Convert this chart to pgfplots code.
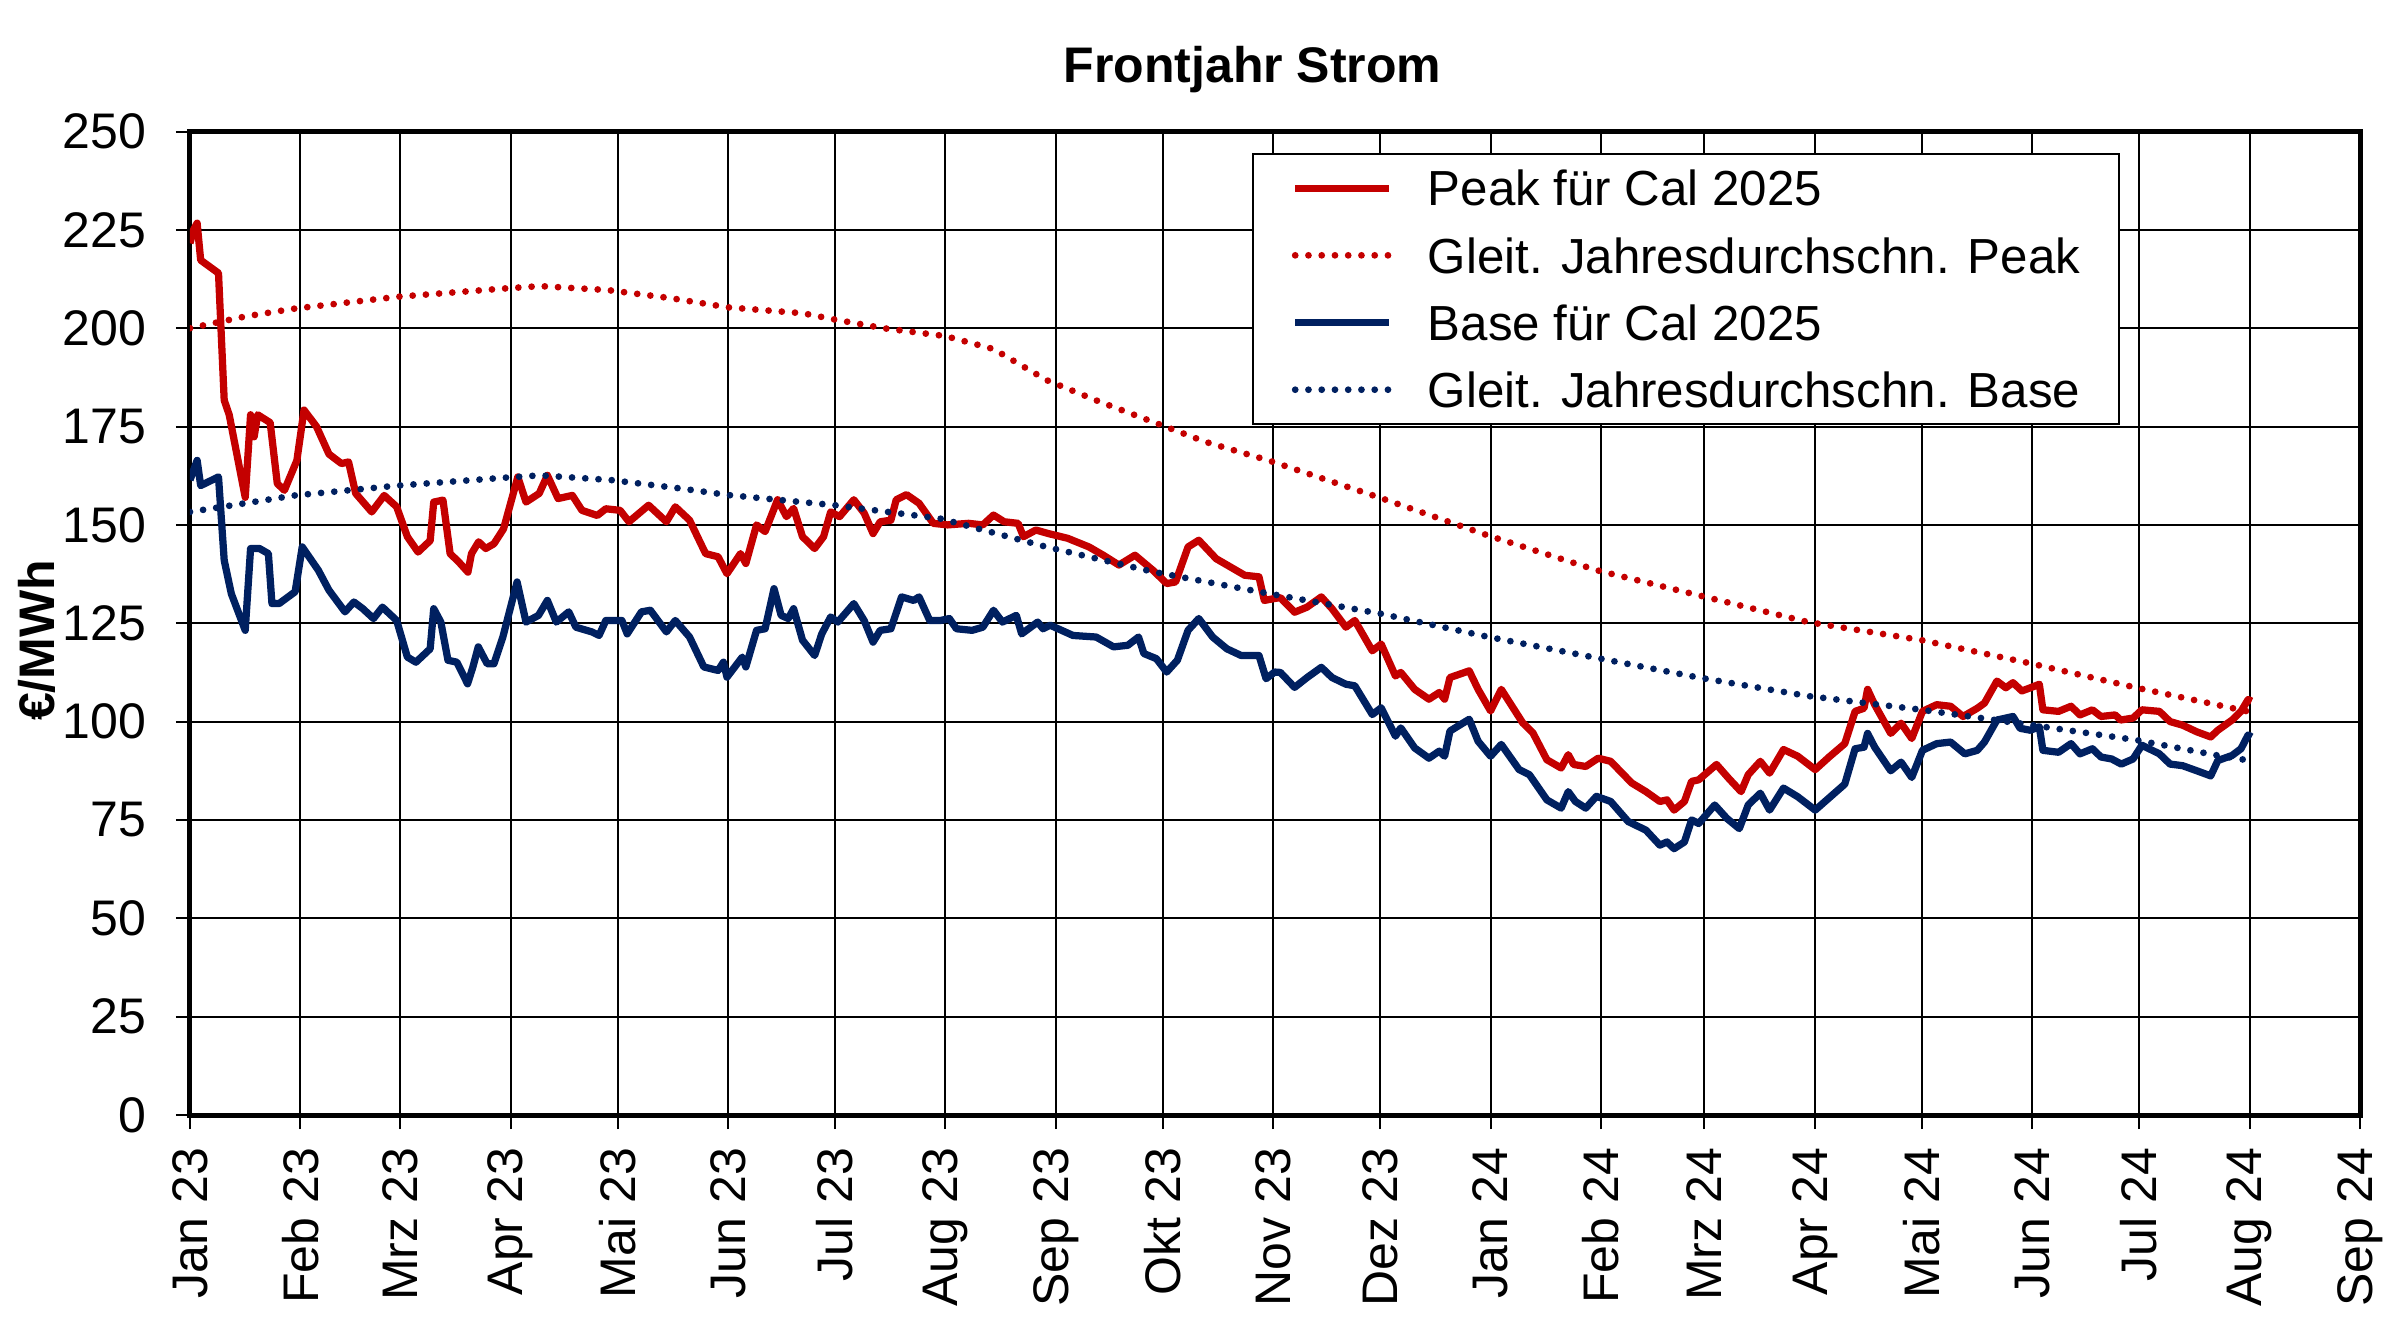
\documentclass[border=0pt]{standalone}
\usepackage{fontspec}
\setmainfont{Liberation Sans}
\usepackage{pgfplots}
\pgfplotsset{compat=1.18}
\definecolor{pkred}{RGB}{196,0,0}
\definecolor{bsblue}{RGB}{0,32,96}
\begin{document}
\begin{tikzpicture}
\useasboundingbox (0,0) rectangle (480pt,265.4pt);
\begin{axis}[
  at={(38pt,42.4pt)}, anchor=south west,
  scale only axis, width=434pt, height=196.7pt,
  xmin=0, xmax=609, ymin=0, ymax=250,
  xtick={0,31,59,90,120,151,181,212,243,273,304,334,365,396,425,456,486,517,547,578,609},
  xticklabels={Jan 23,Feb 23,Mrz 23,Apr 23,Mai 23,Jun 23,Jul 23,Aug 23,Sep 23,Okt 23,Nov 23,Dez 23,Jan 24,Feb 24,Mrz 24,Apr 24,Mai 24,Jun 24,Jul 24,Aug 24,Sep 24},
  ytick={0,25,...,250},
  yticklabels={0,25,50,75,100,125,150,175,200,225,250},
  xtick pos=bottom, ytick pos=left,
  tick align=outside, major tick length=2.8pt,
  every tick/.style={black, line width=0.4pt},
  grid=major, major grid style={black, line width=0.4pt},
  axis line style={black, line width=1pt},
  every tick label/.append style={font=\fontsize{10}{12}\selectfont},
  yticklabel style={anchor=east, inner sep=0pt, xshift=-5.8pt},
  xticklabel style={yshift=-3.6pt, rotate=90, anchor=east, inner sep=0pt},
  ylabel={\bfseries €/MWh},
  every axis y label/.style={at={(axis description cs:0,0.5)}, xshift=-30.6pt, yshift=-3.4pt, rotate=90, anchor=center, font=\fontsize{10}{12}\selectfont},
  title={\bfseries Frontjahr Strom},
  every axis title/.style={at={(axis description cs:0.5,1)}, anchor=base, yshift=9.9pt, xshift=-4.5pt, font=\fontsize{10}{12}\selectfont},
  legend style={at={(axis description cs:0.8894,0.9786)}, anchor=north east, draw=black, line width=0.5pt, fill=white,
    inner xsep=7.7pt, inner ysep=3.3pt, row sep=6.3pt, column sep=7.1pt,
    font=\fontsize{9.85}{12}\selectfont, nodes={inner sep=0pt, text depth=0pt}},
  legend cell align=left,
  legend image code/.code={\draw[#1] (0pt,0pt) -- (18.7pt,0pt);},
  solid line/.style={line width=1.45pt, line join=round},
  dot line/.style={line width=1.35pt, line cap=round, dash pattern=on 0pt off 2.65pt},
]
\addplot[pkred, solid line] coordinates {
(0,221.6) (1,225) (2,226.7) (3,217.3) (8,214) (9.6,181.7) (11,178) (15.5,157) (17,178) (18,172.4) (19,178) (22.5,176) (24.5,160.5) (26.5,158.8) (30,166.4) (32,179.2) (35.5,175) (39,168) (42.5,165.6) (44.5,166) (46.5,158) (51,153.3) (54.5,157.5) (58,154.6) (61,147) (64,143.1) (67.4,146) (68.4,155.8) (71,156.3) (73,142.7) (75.4,140.6) (78,138) (79,142.7) (81,145.7) (83,144) (85.3,145.2) (88,149) (92,162.2) (94.3,155.8) (98,158) (100.3,162.6) (103.3,156.7) (107.3,157.5) (110,153.7) (114.3,152.4) (116.7,154.1) (120.7,153.7) (123.2,150.8) (128.7,155) (133.7,150.8) (136.2,154.6) (140.2,151.2) (144.7,142.7) (148.2,141.9) (150.7,137.6)
(154.5,142.7) (156,140.2) (159,150) (161.4,148.3) (164.9,156.4) (167.4,152.1) (169.4,154.2) (171.9,147) (175.3,144) (177.8,147) (179.8,153.3) (182.3,152.1) (186.3,156.4) (189.2,153) (191.7,147.8) (193.7,150.8) (196.7,151.2) (198.2,156.4) (201.1,157.7) (204.6,155.5) (208.6,150.4) (212.6,150) (218.5,150.4) (222.5,150) (225.5,152.5) (228.5,150.8) (232.4,150.4) (233.9,147) (237.4,148.7) (240.9,147.8) (246.3,146.6) (252.3,144.4) (256.3,142.3) (260.7,139.8) (265.2,142.3) (270.2,138.5) (274.1,135.1) (276.6,135.5) (280.1,144.4) (283.1,146.1) (288,141.4) (292,139.3) (296,137.2) (300,136.8) (301.5,130.8) (304.4,131.3)
(306,131.5) (310,127.8) (313.5,129.1) (317.5,131.7) (320.5,128.7) (324.4,124) (326.9,125.7) (331.8,118) (334.3,119.7) (338.3,111.6) (339.8,112.5) (343.7,108.2) (347.7,105.7) (350.6,107.4) (352.1,105.7) (353.6,111.2) (359,112.9) (361.5,108.2) (365,102.7) (368,108.2) (374,99.7) (376.9,97.1) (380.8,90.3) (384.8,88.2) (386.8,91.6) (388.3,89.1) (391.7,88.6) (395.2,90.7) (398.7,89.9) (404.6,84.4) (408.6,82.2) (412.5,79.7) (414.5,80.1) (416.5,77.5) (419.4,79.7) (421.4,84.8) (423.4,85.2) (428.4,89.1) (431.8,85.6) (435.3,82.2) (437.3,86.5) (440.7,89.9) (443.3,86.9) (447.2,92.9) (451.2,91.2) (456.1,87.8)
(460,91) (464.4,94.4) (467.3,102.6) (469.8,103.4) (470.8,108.2) (472.8,104.3) (477.3,97) (480.2,99.6) (483.2,95.7) (486.2,102.6) (490.2,104.3) (494.1,103.9) (497.6,101.3) (501.6,103.4) (503.6,104.7) (507.1,110.3) (509.6,108.6) (511.6,109.9) (514.1,107.8) (516.5,108.6) (519,109.5) (520,103) (524.4,102.6) (527.9,103.9) (530.4,101.7) (533.9,103) (536.3,101.3) (540.3,101.7) (541.8,100.4) (545.3,100.9) (547.8,103) (552.7,102.6) (555.7,100) (559.2,99.1) (563.2,97.4) (567.1,96.1) (569.1,97.8) (573.1,100.4) (575.6,102.6) (577.6,105.6) (578.6,105.2)
};
\addlegendentry{Peak für Cal 2025}
\addplot[pkred, dot line] coordinates {
(0,200) (15.6,203) (29.5,205) (58.4,208) (88.3,210.1) (98.3,210.7) (117.2,209.7) (135.2,207.6) (151,205.3) (172,203.8) (181,202.2) (194.6,200) (212,198) (225.5,194.7) (240.4,186.8) (255.3,181.3) (270.2,176.2) (285,171.1) (303,166.3) (334.3,156.8) (364,147.4) (394.7,138.5) (423.4,132.1) (454.1,125.3) (486,120.7) (517,114.7) (546.3,108.6) (578,102.5)
};
\addlegendentry{Gleit. Jahresdurchschn. Peak}
\addplot[bsblue, solid line] coordinates {
(0,161.4) (2,166.4) (3,160) (8,162.2) (9.6,141) (11.6,132.5) (15.5,123.2) (17,144) (19.5,144) (22,142.7) (23,130) (25,130) (29.5,133) (31.5,144.4) (36,138.5) (39,133.4) (43.5,127.9) (46,130.4) (48.5,128.7) (51.5,126.2) (54,129.1) (58,125.7) (61,116.4) (63.4,115.1) (67.4,118.5) (68.4,128.7) (70.4,125.3) (72.4,115.6) (74.9,115.1) (77.9,109.6) (79.4,113.9) (80.9,119) (83.4,114.7) (85.3,114.7) (87.8,121.5) (91.8,135.5) (94.3,125.3) (97.8,127) (100.3,130.8) (102.8,125.3) (106.3,127.9) (108.3,124) (112.8,122.8) (114.8,121.9) (116.7,125.7) (121.2,125.7) (122.7,122.3) (126.7,127.9) (129.2,128.3) (133.7,122.8) (136.2,125.7) (140.2,121.5) (144.2,113.9) (148.2,113) (149.7,115.1) (150.7,111.3)
(155,116.4) (156,113.9) (159,123.2) (161.4,123.6) (163.9,133.8) (165.9,127) (167.9,126.2) (169.4,128.7) (171.9,120.7) (175.3,116.8) (177.3,122.3) (179.8,126.6) (181.8,125.3) (186.3,130) (189.2,125.7) (191.7,120.2) (193.7,123.2) (196.7,123.6) (199.7,131.7) (203.1,130.8) (204.6,131.7) (207.6,125.7) (210.6,125.7) (213.1,126.2) (215.1,123.6) (219.5,123.2) (222.5,124) (225.5,128.3) (228,125.3) (231.9,127) (233.4,122.3) (237.9,125.3) (239.4,123.6) (241.4,124.5) (247.8,121.9) (254.3,121.5) (259.2,119) (263.2,119.4) (266.2,121.5) (267.7,117.3) (271.2,116) (274.1,112.6) (277.1,115.6) (280.1,123.2) (283.1,126.2) (287,121.5) (291,118.5) (295,116.8) (300,116.8) (302,110.9) (304.4,112.6)
(306,112.5) (310,108.7) (313.5,111.2) (317.5,113.8) (320.5,111.2) (324.4,109.5) (326.9,109.1) (331.8,101.8) (334.3,103.5) (338.3,96.3) (339.8,98.4) (343.7,93.3) (347.7,90.7) (350.6,92.5) (352.1,91.2) (353.6,97.6) (359,100.6) (361.5,95) (365,91.2) (368,94.2) (373,87.8) (375.9,86.5) (380.8,80.1) (384.8,78) (386.8,82.2) (388.8,79.7) (391.7,78) (394.7,81) (398.7,79.7) (403.6,74.6) (408.6,72.4) (412.5,68.6) (414.5,69.4) (416.5,67.7) (419.4,69.4) (421.4,75) (423.4,74.1) (427.9,78.8) (431.3,75.4) (434.8,72.8) (437.3,78.8) (440.7,81.8) (443.3,77.5) (447.2,83.1) (451.2,80.9) (456.1,77.5)
(460,80.6) (464.4,84.1) (467.3,93.1) (469.8,93.5) (470.8,97) (472.8,93.5) (477.3,87.5) (480.2,89.7) (483.2,85.8) (486.2,92.7) (490.2,94.4) (494.1,94.8) (498.1,91.8) (501.6,92.7) (503.6,94.8) (507.1,100.4) (509.6,100.9) (511.6,101.3) (513.6,98.3) (516.5,97.8) (519,98.7) (520,92.7) (524.4,92.2) (527.9,94.4) (530.4,91.8) (533.9,93.1) (536.3,91) (539.3,90.5) (542,89.2) (545.3,90.5) (547.8,94) (552.7,91.8) (555.7,89.2) (559.2,88.8) (563.2,87.5) (567.1,86.2) (569.1,90.1) (573.1,91.4) (575.6,93.1) (577.6,96.6) (578.6,96.1)
};
\addlegendentry{Base für Cal 2025}
\addplot[bsblue, dot line] coordinates {
(0,153.3) (29.5,157.5) (58.4,160) (88.3,162) (98.3,162.6) (118.2,161.4) (138.2,159.2) (151,157.6) (181,155) (210.6,151.6) (240.4,144.4) (270.2,138.1) (303,132.5) (334.3,127.4) (364,121.6) (394.7,116.2) (423.4,111.2) (454.1,106.5) (486,103) (517,99.1) (546.3,95.3) (569,91.4) (578,90.1)
};
\addlegendentry{Gleit. Jahresdurchschn. Base}
\end{axis}
\end{tikzpicture}
\end{document}
